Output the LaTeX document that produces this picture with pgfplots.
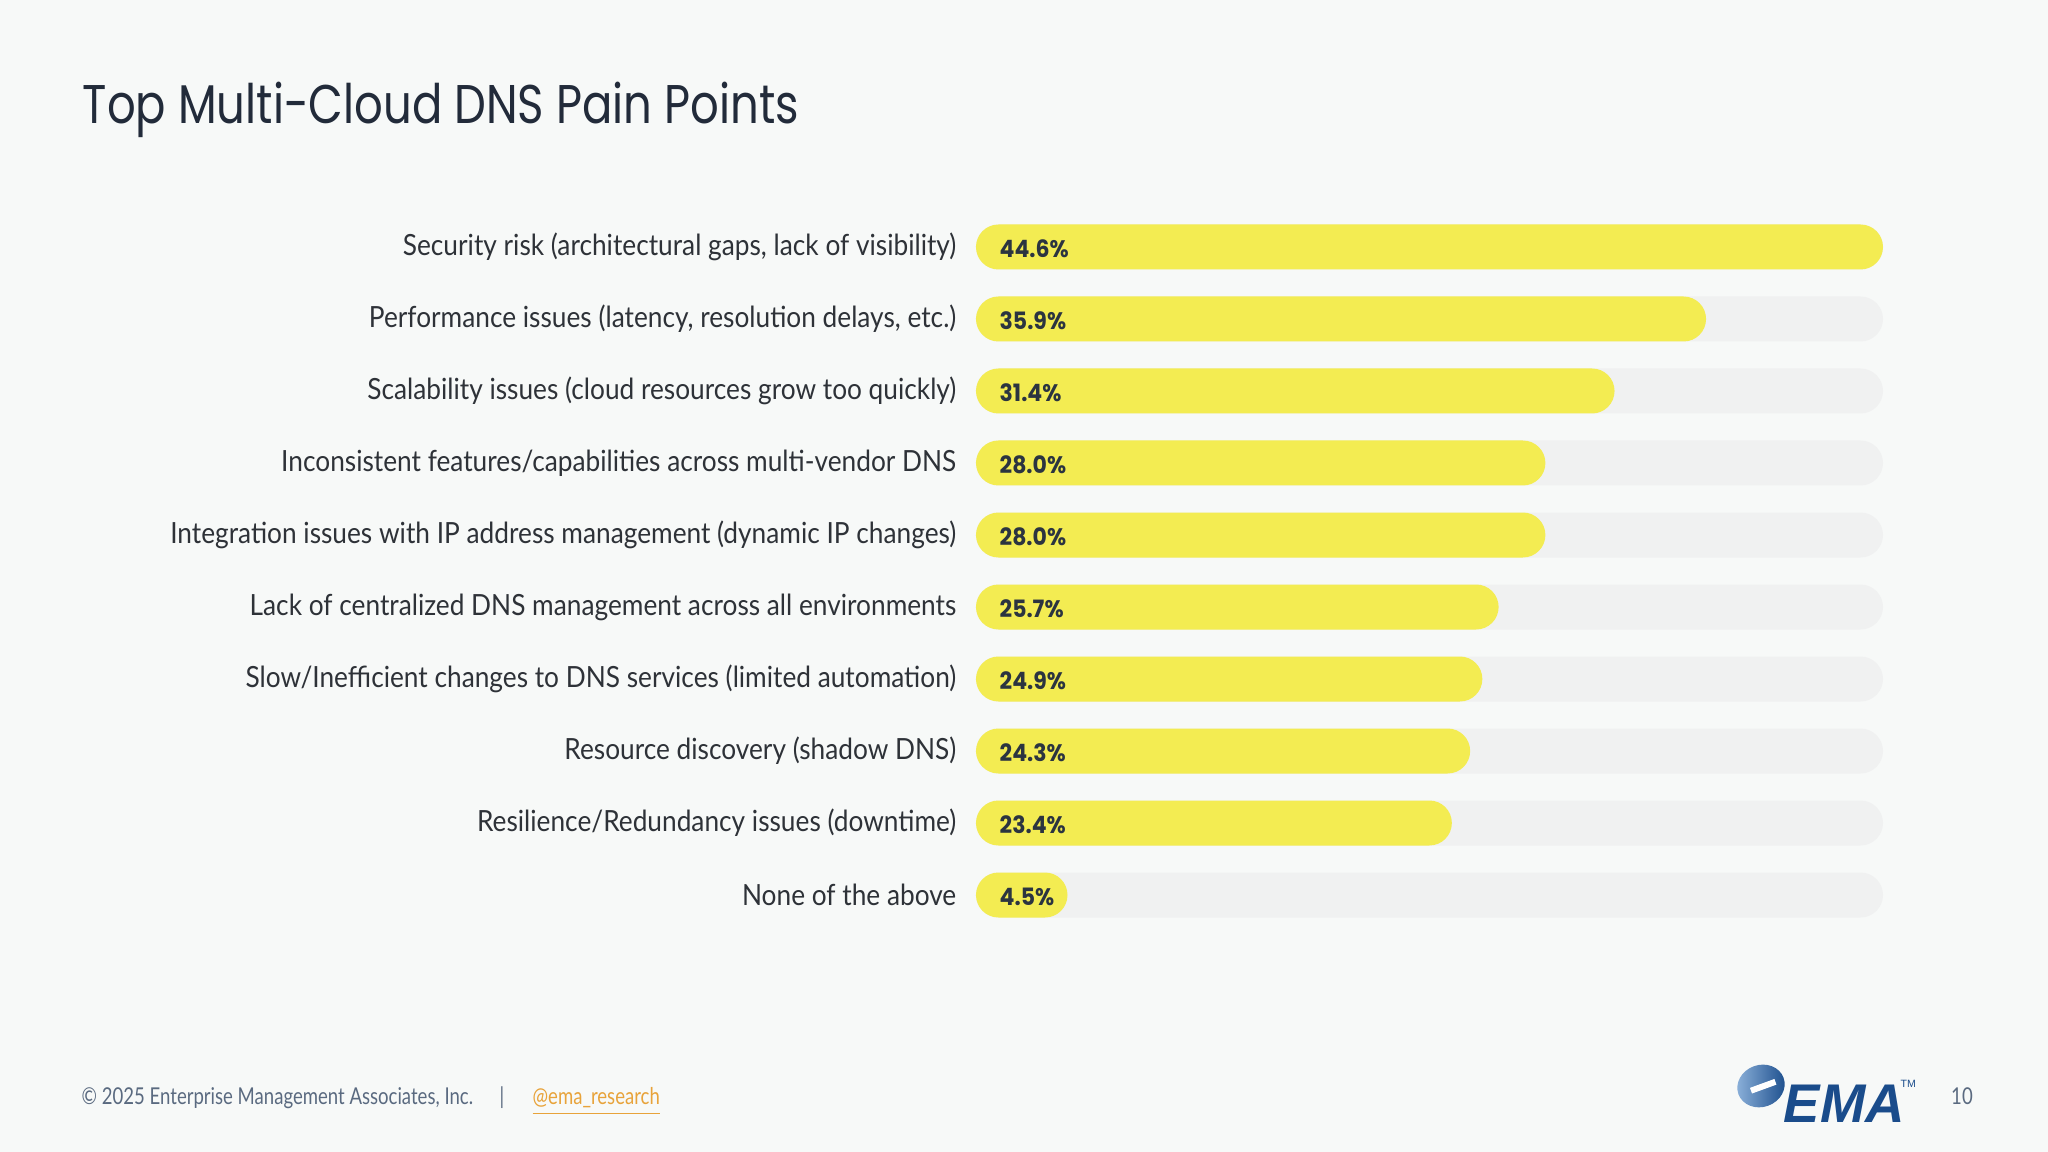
\documentclass[border=0pt]{standalone}
\usepackage{fontspec}
\usepackage{pgfplots}
\pgfplotsset{compat=1.18}

\setmainfont{Lato}
\newfontfamily\labelfont{Lato}[FakeStretch=0.9]
\newfontfamily\footfont{Lato}[FakeStretch=0.8]
\newfontfamily\titlefont{Poppins}[FakeStretch=0.825]
\newfontfamily\valuefont{Poppins}[FakeStretch=0.92]
\newfontfamily\logofont{Liberation Sans}

\definecolor{bg}{HTML}{F7F9F8}
\definecolor{track}{HTML}{F0F1F1}
\definecolor{barc}{HTML}{F3EC52}
\definecolor{labelc}{HTML}{2E3238}
\definecolor{valc}{HTML}{2B3440}
\definecolor{titlec}{HTML}{222B3A}
\definecolor{footc}{HTML}{5A6A80}
\definecolor{linkc}{HTML}{E8A33A}
\definecolor{emablue}{HTML}{1A4C8B}
\definecolor{emalight}{HTML}{8FB4DC}

% idx = row from top, val = share of respondents (%)
\pgfplotstableread{
idx val  full base
0   44.6 44.6 0
1   35.9 44.6 0
2   31.4 44.6 0
3   28.0 44.6 0
4   28.0 44.6 0
5   25.7 44.6 0
6   24.9 44.6 0
7   24.3 44.6 0
8   23.4 44.6 0
9   4.5  44.6 0
}\painpoints

\begin{document}
\begin{tikzpicture}
\fill[bg] (0,0) rectangle (20.48,11.52);

\node[anchor=base west, inner sep=0pt, text=titlec,
      font=\titlefont\fontsize{15.5}{18}\selectfont] at (0.82,10.28)
  {Top Multi-Cloud DNS Pain Points};

\begin{axis}[
    at={(9.76cm,9.41cm)}, anchor=north west,
    scale only axis,
    width=9.07cm, height=7.2cm,
    xmin=0, xmax=44.6,
    ymin=-0.5, ymax=9.5,
    y dir=reverse,
    axis line style={draw=none},
    major tick length=0pt,
    xtick=\empty,
    ytick={0,...,9},
    yticklabels={
        {Security risk (architectural gaps, lack of visibility)},
        {Performance issues (latency, resolution delays, etc.)},
        {Scalability issues (cloud resources grow too quickly)},
        {Inconsistent features/capabilities across multi-vendor DNS},
        {Integration issues with IP address management (dynamic IP changes)},
        {Lack of centralized DNS management across all environments},
        {Slow/Inefficient changes to DNS services (limited automation)},
        {Resource discovery (shadow DNS)},
        {Resilience/Redundancy issues (downtime)},
        {None of the above}},
    yticklabel style={font=\labelfont\fontsize{8.3}{10}\selectfont,
        text=labelc, anchor=east, inner sep=0pt, xshift=-0.19cm},
    clip=false,
]
% grey tracks
\addplot[xbar, bar shift=0pt, bar width=0.45cm, fill=track, draw=none,
    rounded corners=0.225cm] table[x=full, y=idx] {\painpoints};
% yellow bars
\addplot[xbar, bar shift=0pt, bar width=0.45cm, fill=barc, draw=none,
    rounded corners=0.225cm] table[x=val, y=idx] {\painpoints};
% value labels at the start of each bar
\addplot[only marks, mark=*, mark size=0pt, mark options={draw=none, fill=none},
    point meta=explicit symbolic,
    nodes near coords={\pgfplotspointmeta\%},
    every node near coord/.style={anchor=west, inner sep=0pt, xshift=0.23cm,
        yshift=-0.02cm, text=valc,
        font=\valuefont\bfseries\fontsize{6.8}{8}\selectfont}]
    table[x=base, y=idx, meta=val] {\painpoints};
\end{axis}

% footer
\node[anchor=base west, inner sep=0pt, text=footc,
      font=\footfont\fontsize{6.6}{8}\selectfont] at (0.81,0.47)
  {\textcopyright\ 2025 Enterprise Management Associates, Inc.};
\node[anchor=base, inner sep=0pt, text=footc,
      font=\footfont\fontsize{6.6}{8}\selectfont] at (5.02,0.47) {|};
\node[anchor=base west, inner sep=0pt, text=linkc,
      font=\footfont\fontsize{6.6}{8}\selectfont] at (5.32,0.47)
  {\underline{@ema\_research}};
\node[anchor=base, inner sep=0pt, text=footc,
      font=\footfont\fontsize{6.6}{8}\selectfont] at (19.62,0.47) {10};

% logo
\shade[left color=emalight, right color=emablue, rotate around={20:(17.61,0.66)}]
  (17.61,0.66) ellipse (0.24 and 0.21);
\fill[white, rotate around={20:(17.61,0.66)}] (17.50,0.62) rectangle (17.76,0.68);
\node[anchor=base west, inner sep=0pt, text=emablue,
      font=\logofont\bfseries\itshape\fontsize{15.5}{18}\selectfont] at (17.83,0.29) {EMA};
\node[anchor=base west, inner sep=0pt, text=emablue,
      font=\logofont\fontsize{3}{4}\selectfont] at (19.0,0.64) {TM};

\pgfresetboundingbox
\path[use as bounding box] (0,0) rectangle (20.48,11.52);
\end{tikzpicture}
\end{document}
